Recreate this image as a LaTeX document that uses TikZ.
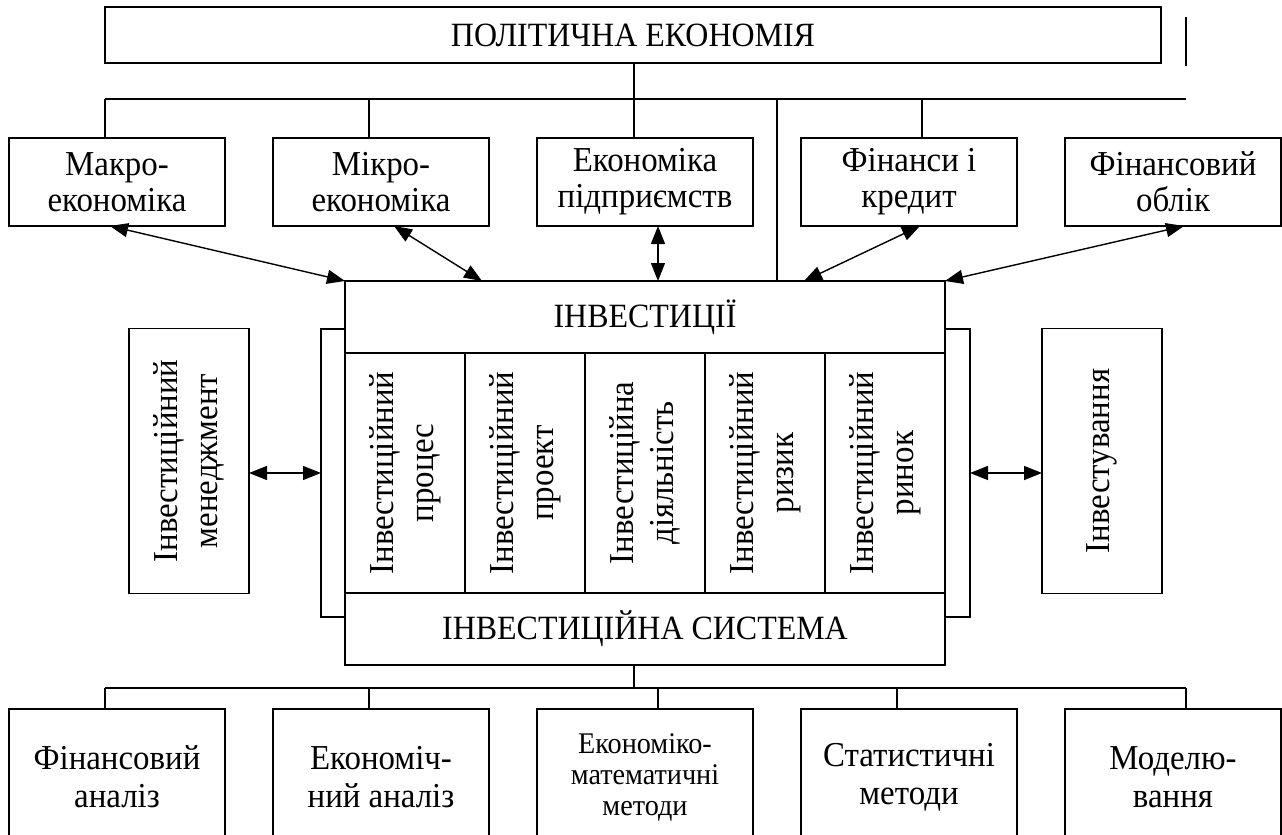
\documentclass[tikz,border=0pt]{standalone}
\usepackage{fontspec}
\setmainfont{Liberation Serif}[FakeStretch=0.94]
\usetikzlibrary{arrows.meta, positioning}
\tikzset{
>={Triangle[length=18pt,width=14pt]}, % filled arrow heads
every path/.style={line width=1.4pt}, % all lines a bit heavier
box/.style={draw, line width=1.6pt, align=center, inner sep=0pt, outer sep=0pt, font=\fontsize{34}{34}\selectfont}, % plain framed box
topbox/.style={box, minimum width=216pt, minimum height=88pt, font=\fontsize{35}{36}\selectfont}, % upper row of disciplines
lowbox/.style={box, minimum width=216pt, minimum height=136pt, font=\fontsize{35}{38}\selectfont}, % lower row of methods
colbox/.style={box, rotate=90, minimum width=240pt, minimum height=120pt, font=\fontsize{35}{40}\selectfont}, % upright columns
sidebox/.style={box, rotate=90, minimum width=265pt, minimum height=120pt, font=\fontsize{35}{40}\selectfont}, % side boxes
}

\begin{document}
\begin{tikzpicture}[x=1pt, y=-1pt]
      \useasboundingbox (0,0) rectangle (1282,835);

      \node[box, minimum width=1056pt, minimum height=56pt] (pe) at (633,35) {ПОЛІТИЧНА ЕКОНОМІЯ};

      \node[topbox] (mak) at (117,182) {Макро-\\економіка};
      \node[topbox, right=48pt of mak] (mik) {Мікро-\\економіка};
      \node[topbox, right=48pt of mik] (ek) {Економіка\\підприємств};
      \node[topbox, right=48pt of ek] (fin) {Фінанси і\\кредит};
      \node[topbox, right=48pt of fin] (obl) {Фінансовий\\облік};

      \node[box, minimum width=600pt, minimum height=72pt] (inv) at (645,317) {ІНВЕСТИЦІЇ};
      \node[colbox] (c1) at (405,473) {Інвестиційний\\процес};
      \node[colbox] (c2) at (525,473) {Інвестиційний\\проект};
      \node[colbox] (c3) at (645,473) {Інвестиційна\\діяльність};
      \node[colbox] (c4) at (765,473) {Інвестиційний\\ризик};
      \node[colbox] (c5) at (885,473) {Інвестиційний\\ринок};
      \node[box, minimum width=600pt, minimum height=72pt] (sys) at (645,629) {ІНВЕСТИЦІЙНА СИСТЕМА};

      \node[sidebox] (mgr) at (189,461) {Інвестиційний\\менеджмент};
      \node[sidebox] (ins) at (1102,461) {Інвестування};

      \node[lowbox] (fa) at (117,777) {Фінансовий\\аналіз};
      \node[lowbox, right=48pt of fa] (ea) {Економіч-\\ний аналіз};
      \node[lowbox, right=48pt of ea, font=\fontsize{30}{31}\selectfont] (em) {Економіко-\\математичні\\методи};
      \node[lowbox, right=48pt of em] (sm) {Статистичні\\методи};
      \node[lowbox, right=48pt of sm] (mod) {Моделю-\\вання};

      % bus points
      \coordinate (tb1) at (105,99);
      \coordinate (tb2) at (369,99);
      \coordinate (tb3) at (634,99);
      \coordinate (tb4) at (777,99);
      \coordinate (tb5) at (922,99);
      \coordinate (tbe) at (1186,99);
      \coordinate (bar1) at (1186,17);
      \coordinate (bar2) at (1186,66);
      \coordinate (lb1) at (321,329);
      \coordinate (lb2) at (321,617);
      \coordinate (rb1) at (970,329);
      \coordinate (rb2) at (970,617);
      \coordinate (la) at (321,473);
      \coordinate (ra) at (970,473);
      \coordinate (bb0) at (634,688);
      \coordinate (bb1) at (105,688);
      \coordinate (bb2) at (369,688);
      \coordinate (bb3) at (658,688);
      \coordinate (bb4) at (897,688);
      \coordinate (bb5) at (1186,688);

      \draw (tb3 |- pe.south) -- (tb3)
      (tb1) -- (tbe)
      (tb1) -- (tb1 |- mak.north)
      (tb2) -- (tb2 |- mik.north)
      (tb3) -- (tb3 |- ek.north)
      (tb5) -- (tb5 |- fin.north)
      (tb4) -- (tb4 |- inv.north)
      (bar1) -- (bar2);

      \draw[<->] ([xshift=-7pt]mak.south) -- (inv.north west);
      \draw[<->] ([xshift=13pt]mik.south) -- ([xshift=-163pt]inv.north);
      \draw[<->] ([xshift=13pt]ek.south) -- ([xshift=13pt]inv.north);
      \draw[<->] ([xshift=11pt]fin.south) -- ([xshift=159pt]inv.north);
      \draw[<->] ([xshift=11pt]obl.south) -- (inv.north east);

      \draw (inv.west |- lb1) -- (lb1) -- (lb2) -- (sys.west |- lb2)
      (inv.east |- rb1) -- (rb1) -- (rb2) -- (sys.east |- rb2);
      \draw[<->] (mgr.south |- la) -- (la);
      \draw[<->] (ra) -- (ins.north |- ra);

      \draw (bb0 |- sys.south) -- (bb0)
      (bb1) -- (bb5)
      (bb1) -- (bb1 |- fa.north)
      (bb2) -- (bb2 |- ea.north)
      (bb3) -- (bb3 |- em.north)
      (bb4) -- (bb4 |- sm.north)
      (bb5) -- (bb5 |- mod.north);
\end{tikzpicture}
\end{document}
